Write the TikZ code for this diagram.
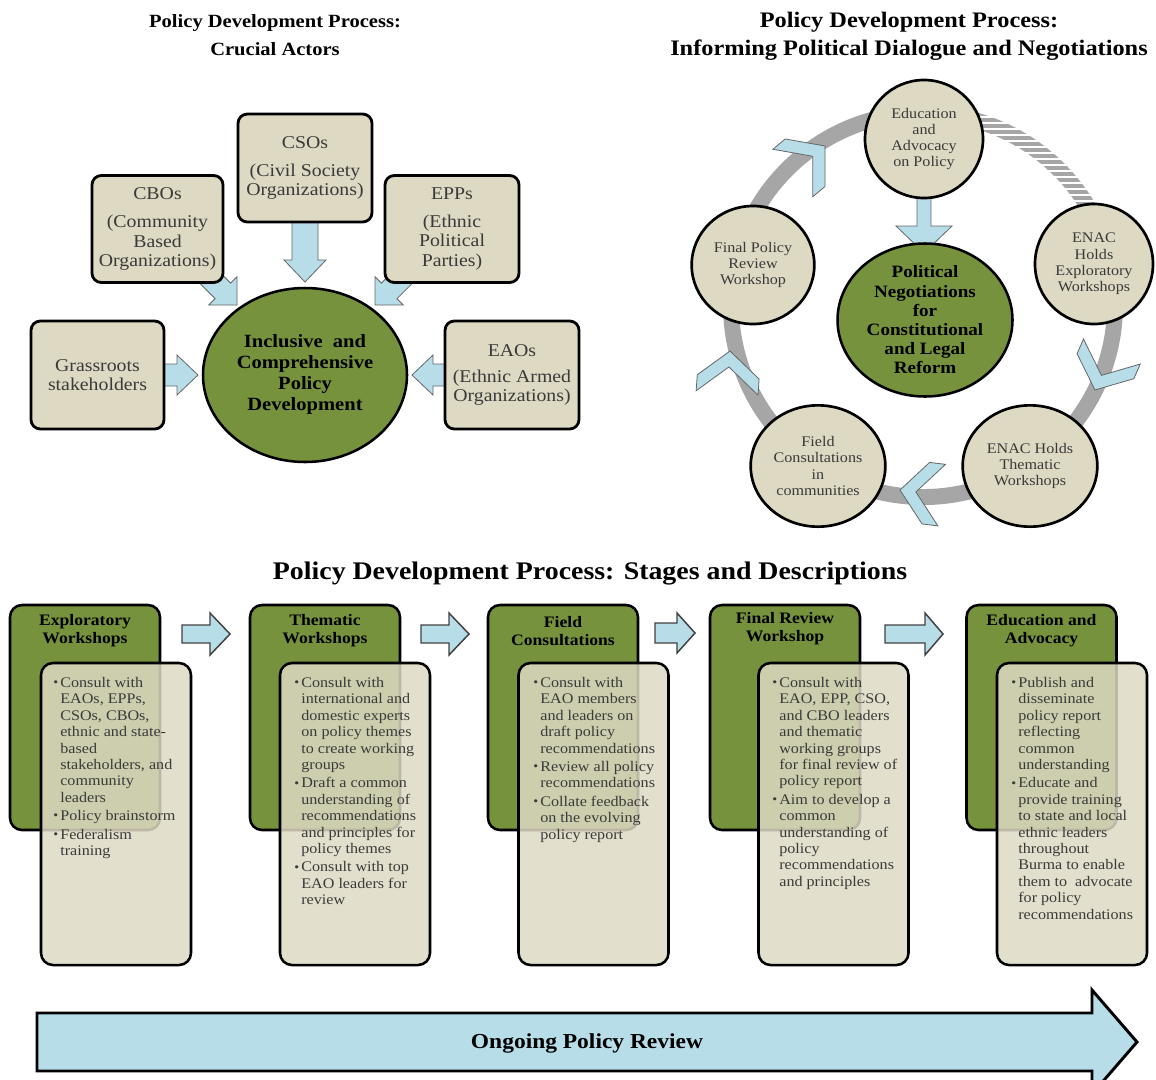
\documentclass[tikz,border=0pt]{standalone}
\usepackage{fontspec}
\setmainfont{Liberation Serif}[FakeStretch=1.1]
\usetikzlibrary{calc,shapes.geometric}
\definecolor{cgreen}{HTML}{76923C}
\definecolor{cbeige}{HTML}{DDD9C3}
\definecolor{lblue}{HTML}{B7DDE8}
\definecolor{ringg}{HTML}{A6A6A6}
\definecolor{ctext}{HTML}{3A3A3A}
\pgfdeclarelayer{bg}
\pgfsetlayers{bg,main}
\newcommand{\barr}[7][]{%
  \begin{scope}[shift={#2},rotate=#3]
    \draw[#1] (0,{-#5}) -- ({#4-#7},{-#5}) -- ({#4-#7},{-#6}) -- (#4,0) -- ({#4-#7},#6) -- ({#4-#7},#5) -- (0,#5) -- cycle;
  \end{scope}}
\newcommand{\chev}[2]{%
  \begin{scope}[shift={#1},rotate=#2]
    \draw[chevst] (0,0) -- (-26,31) -- (-42,31) -- (-16,0) -- (-42,-31) -- (-26,-31) -- cycle;
  \end{scope}}
\newcommand{\bitem}{\makebox[5.3pt][l]{\raisebox{0.1ex}{\fontsize{9.5}{9.5}\selectfont\textbullet}}}
\newcommand{\bcont}{\hspace*{5.3pt}}
\tikzset{
  ttl/.style={font=\bfseries\fontsize{14}{21}\selectfont, align=center, inner sep=0pt},
  actor/.style={draw=black, line width=2.1pt, fill=cbeige, rounded corners=7pt, align=center,
    text=ctext, font=\fontsize{13.5}{14.6}\selectfont, inner sep=0pt},
  core/.style={ellipse, draw=black, line width=1.9pt, fill=cgreen, align=center, inner sep=0pt,
    font=\bfseries\fontsize{14}{15.75}\selectfont},
  cyc/.style={ellipse, draw=black, line width=2pt, fill=cbeige, align=center, inner sep=0pt,
    text=ctext, font=\fontsize{11}{12.2}\selectfont},
  larrow/.style={fill=lblue, draw=gray!80!black, line width=0.6pt},
  sarrow/.style={fill=lblue, draw=black!75, line width=1.1pt},
  bigarrow/.style={fill=lblue, draw=black, line width=2.2pt},
  chevst/.style={fill=lblue, draw=black!60, line width=0.6pt},
  ringline/.style={draw=ringg, line width=12pt},
  gbox/.style={draw=black, line width=1.9pt, fill=cgreen, rounded corners=9pt,
    minimum width=112.5pt, minimum height=168.75pt, inner sep=0pt},
  gtitle/.style={font=\bfseries\fontsize{12}{13.5}\selectfont, align=center, inner sep=0pt},
  bbox/.style={draw=black, line width=1.9pt, fill=cbeige, fill opacity=0.85, rounded corners=9pt,
    minimum width=112.5pt, minimum height=226.5pt, inner sep=0pt},
  btext/.style={anchor=north west, align=left, inner sep=0pt, text=ctext,
    font=\fontsize{11}{12.3}\selectfont},
}
\begin{document}
\begin{tikzpicture}[x=0.75pt,y=-0.75pt]
\useasboundingbox (0,0) rectangle (1156,1079);
\clip (0,0) rectangle (1156,1079);

% ---------- titles ----------
\node[ttl] (t1) at (275,35) {Policy Development Process:\\Crucial Actors};
\node[ttl, font=\bfseries\fontsize{16.6}{21}\selectfont] (t2) at (909,36) {Policy Development Process:\\Informing Political Dialogue and Negotiations};
\node[font=\bfseries\fontsize{19}{22}\selectfont, inner sep=0pt] (t3) at (590,573) {Policy Development Process: Stages and Descriptions};

% ---------- crucial actors ----------
\node[actor, minimum width=100.5pt, minimum height=81pt] (cso) at (305,168) {CSOs\\[6.4pt](Civil Society\\Organizations)};
\node[actor, minimum width=98.25pt, minimum height=80.25pt] (cbo) at (157.5,229) {CBOs\\[6.4pt](Community\\Based\\Organizations)};
\node[actor, minimum width=100.5pt, minimum height=80.25pt] (epp) at (452,229) {EPPs\\[6.4pt](Ethnic\\Political\\Parties)};
\node[actor, minimum width=99.75pt, minimum height=81pt] (grass) at (97.5,375) {Grassroots\\stakeholders};
\node[actor, minimum width=100.5pt, minimum height=81pt] (eao) at (512,375) {EAOs\\[5pt](Ethnic Armed\\Organizations)};
\node[core, minimum width=153pt, minimum height=130.5pt] (incl) at (305,375) {Inclusive\ \ and\\Comprehensive\\Policy\\Development};

\begin{pgfonlayer}{bg}
  \barr[larrow]{(160,375)}{0}{38}{11}{20}{21}
  \barr[larrow]{(449,375)}{180}{37}{11}{20}{21}
  \barr[larrow]{(305,215)}{-90}{67}{13}{21}{22}
  \barr[larrow]{(195,263)}{-45}{59.4}{11}{20}{20}
  \barr[larrow]{(417,263)}{-135}{59.4}{11}{20}{20}
\end{pgfonlayer}

% ---------- cycle ----------
\coordinate (rc) at (923,305);
\begin{pgfonlayer}{bg}
  \draw[ringline] ($(rc)+(80:144pt)$) arc[start angle=80, end angle=388, radius=144pt];
  \begin{scope}
    \clip ($(rc)+(28:150pt)$) arc[start angle=28, end angle=80, radius=150pt]
      -- ($(rc)+(80:138pt)$) arc[start angle=80, end angle=28, radius=138pt] -- cycle;
    \foreach \yy in {96,102,...,240} \draw[ringg, line width=2.3pt] (940,\yy) -- (1140,\yy);
  \end{scope}
\end{pgfonlayer}

\node[cyc, minimum width=88.5pt, minimum height=88.5pt] (edu) at (924,139) {Education\\and\\Advocacy\\on Policy};
\node[cyc, minimum width=88.5pt, minimum height=90pt] (expl) at (1094,264) {ENAC\\Holds\\Exploratory\\Workshops};
\node[cyc, minimum width=101pt, minimum height=91pt] (them) at (1030,466) {ENAC Holds\\Thematic\\Workshops};
\node[cyc, minimum width=101pt, minimum height=91pt] (field) at (818,466) {Field\\Consultations\\in\\communities};
\node[cyc, minimum width=92pt, minimum height=88.5pt] (final) at (753,265) {Final Policy\\Review\\Workshop};
\node[core, minimum width=131.25pt, minimum height=99.75pt, font=\bfseries\fontsize{13}{14.4}\selectfont] (pol) at (925,320) {Political\\Negotiations\\for\\Constitutional\\and Legal\\Reform};

\begin{pgfonlayer}{bg}
  \barr[larrow]{(924,190)}{-90}{63}{7}{28}{27}
\end{pgfonlayer}

\chev{(825,146)}{40}
\chev{(1095,390)}{-113.7}
\chev{(900,490)}{173}
\chev{(730,351)}{86}

% ---------- stages ----------
\node[gbox] (g1) at (85,717.5) {};
\node[gbox] (g2) at (325,717.5) {};
\node[gbox] (g3) at (563,717.5) {};
\node[gbox] (g4) at (785,717.5) {};
\node[gbox] (g5) at (1041.5,717.5) {};
\node[gtitle] (g1t) at (85,631) {Exploratory\\Workshops};
\node[gtitle] (g2t) at (325,631) {Thematic\\Workshops};
\node[gtitle] (g3t) at (563,631) {Field\\Consultations};
\node[gtitle] (g4t) at (785,629) {Final Review\\Workshop};
\node[gtitle] (g5t) at (1041.5,631) {Education and\\Advocacy};

\node[bbox] (b1) at (116,814) {};
\node[bbox] (b2) at (355,814) {};
\node[bbox] (b3) at (593.5,814) {};
\node[bbox] (b4) at (833.5,814) {};
\node[bbox] (b5) at (1072,814) {};

\node[btext] (b1t) at (53,677) {\bitem Consult with\\ \bcont EAOs, EPPs,\\ \bcont CSOs, CBOs,\\ \bcont ethnic and state-\\ \bcont based\\ \bcont stakeholders, and\\ \bcont community\\ \bcont leaders\\[1.5pt]
\bitem Policy brainstorm\\[1.5pt]
\bitem Federalism\\ \bcont training};
\node[btext] (b2t) at (294,677) {\bitem Consult with\\ \bcont international and\\ \bcont domestic experts\\ \bcont on policy themes\\ \bcont to create working\\ \bcont groups\\[1.5pt]
\bitem Draft a common\\ \bcont understanding of\\ \bcont recommendations\\ \bcont and principles for\\ \bcont policy themes\\[1.5pt]
\bitem Consult with top\\ \bcont EAO leaders for\\ \bcont review};
\node[btext] (b3t) at (533,677) {\bitem Consult with\\ \bcont EAO members\\ \bcont and leaders on\\ \bcont draft policy\\ \bcont recommendations\\[1.5pt]
\bitem Review all policy\\ \bcont recommendations\\[1.5pt]
\bitem Collate feedback\\ \bcont on the evolving\\ \bcont policy report};
\node[btext] (b4t) at (772,677) {\bitem Consult with\\ \bcont EAO, EPP, CSO,\\ \bcont and CBO leaders\\ \bcont and thematic\\ \bcont working groups\\ \bcont for final review of\\ \bcont policy report\\[1.5pt]
\bitem Aim to develop a\\ \bcont common\\ \bcont understanding of\\ \bcont policy\\ \bcont recommendations\\ \bcont and principles};
\node[btext] (b5t) at (1011,677) {\bitem Publish and\\ \bcont disseminate\\ \bcont policy report\\ \bcont reflecting\\ \bcont common\\ \bcont understanding\\[1.5pt]
\bitem Educate and\\ \bcont provide training\\ \bcont to state and local\\ \bcont ethnic leaders\\ \bcont throughout\\ \bcont Burma to enable\\ \bcont them to\ \ advocate\\ \bcont for policy\\ \bcont recommendations};

\barr[sarrow]{(182,634)}{0}{48}{9}{21}{20}
\barr[sarrow]{(421,634)}{0}{48}{9}{21}{20}
\barr[sarrow]{(655,633)}{0}{40}{10}{20}{18}
\barr[sarrow]{(885,634)}{0}{58}{9}{21}{18}

% ---------- ongoing review ----------
\barr[bigarrow]{(37,1042)}{0}{1100}{29}{52}{45}
\node[font=\bfseries\fontsize{16}{18}\selectfont, inner sep=0pt] (ongo) at (587,1043) {Ongoing Policy Review};
\end{tikzpicture}
\end{document}
